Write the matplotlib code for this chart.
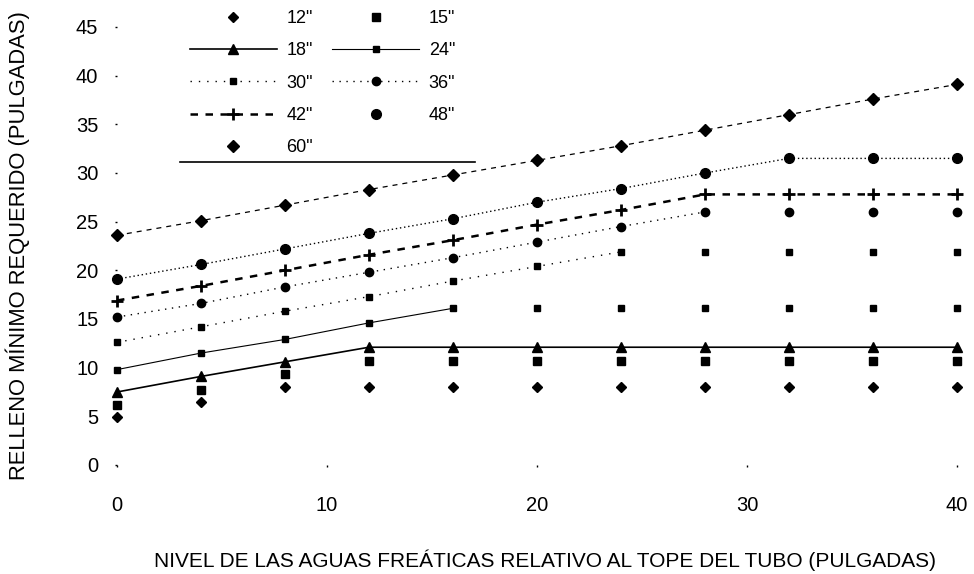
import matplotlib
matplotlib.use("Agg")
import matplotlib.pyplot as plt
from matplotlib.lines import Line2D

# water table level relative to pipe crown (in)
nivel = [0, 4, 8, 12, 16, 20, 24, 28, 32, 36, 40]

# minimum cover, one list per pipe diameter
d12 = [4.9, 6.5, 8.0, 8.0, 8.0, 8.0, 8.0, 8.0, 8.0, 8.0, 8.0]
d15 = [6.2, 7.7, 9.3, 10.7, 10.7, 10.7, 10.7, 10.7, 10.7, 10.7, 10.7]
d18 = [7.5, 9.1, 10.6, 12.1, 12.1, 12.1, 12.1, 12.1, 12.1, 12.1, 12.1]
d24 = [9.8, 11.5, 12.9, 14.6, 16.1, 16.1, 16.1, 16.1, 16.1, 16.1, 16.1]
d30 = [12.6, 14.2, 15.8, 17.3, 18.9, 20.4, 21.9, 21.9, 21.9, 21.9, 21.9]
d36 = [15.2, 16.6, 18.3, 19.8, 21.3, 22.9, 24.5, 26.0, 26.0, 26.0, 26.0]
d42 = [16.9, 18.4, 20.0, 21.6, 23.1, 24.7, 26.2, 27.8, 27.8, 27.8, 27.8]
d48 = [19.1, 20.6, 22.2, 23.8, 25.3, 27.0, 28.4, 30.0, 31.5, 31.5, 31.5]
d60 = [23.6, 25.1, 26.7, 28.3, 29.8, 31.3, 32.8, 34.4, 36.0, 37.6, 39.1]

plt.rcParams['font.family'] = ['Liberation Sans', 'DejaVu Sans']

fig = plt.figure(figsize=(9.74, 5.74), dpi=100)
ax = fig.add_axes([117/974, 1 - 465/574, 840/974, 438/574])

k = dict(color='k', clip_on=False)

# marker only series
h12, = ax.plot(nivel, d12, ls='none', marker='D', ms=5, label='12"', **k)
h15, = ax.plot(nivel, d15, ls='none', marker='s', ms=6, label='15"', **k)

# 18" solid line all along
h18, = ax.plot(nivel, d18, ls='-', lw=1.2, marker='^', ms=6.5, label='18"', **k)

# 24", 30", 36": line only on the sloped part
h24, = ax.plot(nivel[:5], d24[:5], ls='-', lw=0.8, marker='s', ms=5, label='24"', **k)
ax.plot(nivel[5:], d24[5:], ls='none', marker='s', ms=5, **k)
h30, = ax.plot(nivel[:7], d30[:7], ls=(0, (1, 5)), lw=1, marker='s', ms=5, label='30"', **k)
ax.plot(nivel[7:], d30[7:], ls='none', marker='s', ms=5, **k)
h36, = ax.plot(nivel[:8], d36[:8], ls=(0, (1, 4)), lw=1, marker='o', ms=6, label='36"', **k)
ax.plot(nivel[8:], d36[8:], ls='none', marker='o', ms=6, **k)

h42, = ax.plot(nivel, d42, ls=(0, (3, 3)), lw=1.8, marker='+', ms=9, mew=2, label='42"', **k)

# 48" and 60" have no line in the legend
ax.plot(nivel, d48, ls=(0, (1, 2)), lw=1, **k)
h48, = ax.plot(nivel, d48, ls='none', marker='o', ms=7, label='48"', **k)
ax.plot(nivel, d60, ls=(0, (4, 4)), lw=0.9, **k)
h60, = ax.plot(nivel, d60, ls='none', marker='D', ms=6, label='60"', **k)

ax.set_xlim(0, 40)
ax.set_ylim(0, 45)
ax.set_xticks([0, 10, 20, 30, 40])
ax.set_yticks(range(0, 46, 5))
for s in ax.spines.values():
    s.set_visible(False)
ax.tick_params(axis='y', length=1.5, width=1, pad=12, labelsize=14.5)
ax.tick_params(axis='x', length=1.5, width=1, pad=21, labelsize=14.5)

ax.set_xlabel('NIVEL DE LAS AGUAS FREÁTICAS RELATIVO AL TOPE DEL TUBO (PULGADAS)',
              fontsize=15)
ax.set_ylabel('RELLENO MÍNIMO REQUERIDO (PULGADAS)', fontsize=15.8)
ax.xaxis.set_label_coords(0.51, -0.192)
ax.yaxis.set_label_coords(-0.104, 0.502)

# column-major order so rows read 12/15, 18/24, ...
handles = [h12, h18, h30, h42, h60, h15, h24, h36, h48]
fig.legend(handles=handles, labels=[h.get_label() for h in handles],
           ncol=2, loc='upper left', bbox_to_anchor=(190/974, 1 - 10/574),
           frameon=False, fontsize=13, borderpad=0, borderaxespad=0,
           handlelength=4.8, handletextpad=0.55, columnspacing=1.05,
           labelspacing=0.85)
fig.add_artist(Line2D([180/974, 475/974], [1 - 162/574, 1 - 162/574],
                      transform=fig.transFigure, color='k', lw=1.2))

fig.savefig('out.png', dpi=100)
